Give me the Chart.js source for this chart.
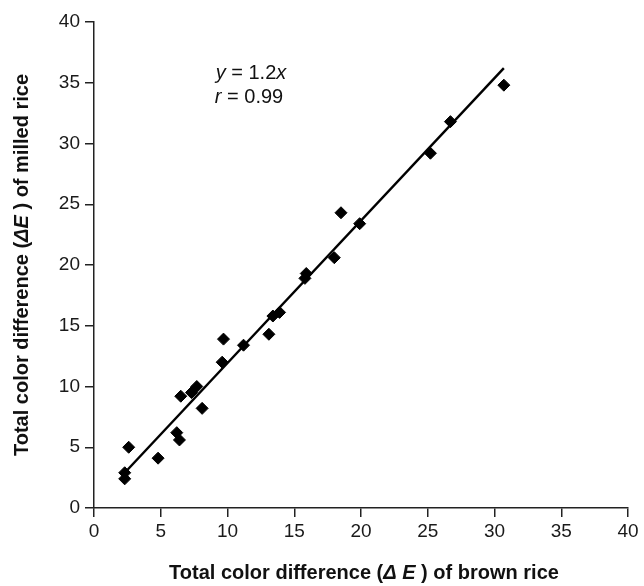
<!DOCTYPE html>
<html>
<head>
<meta charset="utf-8">
<script src="https://cdn.jsdelivr.net/npm/chart.js@4.4.1/dist/chart.umd.min.js"></script>
<style>
  html, body { margin: 0; padding: 0; background: #fff; }
  #wrap { position: relative; width: 644px; height: 586px; }
</style>
</head>
<body>
<div id="wrap"><canvas id="c" width="644" height="586"></canvas></div>
<script>
// ── data ──
const brownRice = [2.3, 2.3, 2.6, 4.8, 6.2, 6.4, 6.5, 7.3, 7.7, 8.1, 9.6, 9.7, 11.2, 13.1, 13.4, 13.9, 15.8, 15.9, 18.0, 18.5, 19.9, 25.2, 26.7, 30.7];
const milledRice = [2.4, 2.9, 5.0, 4.1, 6.2, 5.6, 9.2, 9.5, 10.0, 8.2, 12.0, 13.9, 13.4, 14.3, 15.8, 16.1, 18.9, 19.3, 20.6, 24.3, 23.4, 29.2, 31.8, 34.8];
const fitX = [2.3, 30.7];
const fitY = [2.9, 36.2];
const xTicks = [0, 5, 10, 15, 20, 25, 30, 35, 40];
const yTicks = [0, 5, 10, 15, 20, 25, 30, 35, 40];

const FONT = "'Liberation Sans', Arial, sans-serif";

// draws a run of text pieces, some italic
function drawRuns(ctx, runs, x, y, size, bold) {
  const w = runs.reduce((s, r) => {
    ctx.font = (r.i ? 'italic ' : '') + (bold ? 'bold ' : '') + size + 'px ' + FONT;
    return s + ctx.measureText(r.t).width;
  }, 0);
  let cx = x - w / 2;
  runs.forEach(r => {
    ctx.font = (r.i ? 'italic ' : '') + (bold ? 'bold ' : '') + size + 'px ' + FONT;
    ctx.fillText(r.t, cx, y);
    cx += ctx.measureText(r.t).width;
  });
}

const titles = {
  id: 'titles',
  afterDraw(chart) {
    const ctx = chart.ctx;
    ctx.save();
    ctx.fillStyle = '#111';
    ctx.textBaseline = 'middle';
    ctx.textAlign = 'left';
    // x title
    drawRuns(ctx, [
      { t: 'Total color difference (' }, { t: '\u0394 E', i: true }, { t: ' ) of brown rice' }
    ], 364, 573, 20, true);
    // y title
    ctx.translate(22, 265);
    ctx.rotate(-Math.PI / 2);
    drawRuns(ctx, [
      { t: 'Total color difference (' }, { t: '\u0394E', i: true }, { t: ' ) of milled rice' }
    ], 0, 0, 20, true);
    ctx.restore();

    // equation annotation
    ctx.save();
    ctx.fillStyle = '#111';
    ctx.textBaseline = 'middle';
    drawRuns(ctx, [{ t: 'y', i: true }, { t: ' = 1.2' }, { t: 'x', i: true }], 251, 73, 20, false);
    drawRuns(ctx, [{ t: 'r', i: true }, { t: ' = 0.99' }], 249, 97, 20, false);
    ctx.restore();
  }
};

new Chart(document.getElementById('c'), {
  type: 'scatter',
  data: {
    datasets: [
      {
        data: brownRice.map((x, i) => ({ x: x, y: milledRice[i] })),
        pointStyle: 'rectRot',
        pointRadius: 6,
        backgroundColor: '#000',
        borderColor: '#000',
        borderWidth: 1
      },
      {
        type: 'line',
        data: fitX.map((x, i) => ({ x: x, y: fitY[i] })),
        borderColor: '#000',
        borderWidth: 2.4,
        pointRadius: 0,
        fill: false
      }
    ]
  },
  options: {
    responsive: false,
    animation: false,
    layout: { padding: { top: 22, right: 16, left: 0, bottom: 0 } },
    plugins: { legend: { display: false }, tooltip: { enabled: false } },
    scales: {
      x: {
        type: 'linear',
        min: 0, max: 40,
        afterBuildTicks: s => { s.ticks = xTicks.map(v => ({ value: v })); },
        afterFit: s => { s.height = 78; },
        grid: { drawOnChartArea: false, drawTicks: true, tickLength: 9, color: '#222', lineWidth: 1.5 },
        border: { color: '#222', width: 1.5 },
        ticks: { color: '#1a1a1a', font: { size: 19, family: FONT }, padding: 3, maxRotation: 0 }
      },
      y: {
        type: 'linear',
        min: 0, max: 40,
        afterBuildTicks: s => { s.ticks = yTicks.map(v => ({ value: v })); },
        afterFit: s => { s.width = 94; },
        grid: { drawOnChartArea: false, drawTicks: true, tickLength: 9, color: '#222', lineWidth: 1.5 },
        border: { color: '#222', width: 1.5 },
        ticks: { color: '#1a1a1a', font: { size: 19, family: FONT }, padding: 5 }
      }
    }
  },
  plugins: [titles]
});
</script>
</body>
</html>
